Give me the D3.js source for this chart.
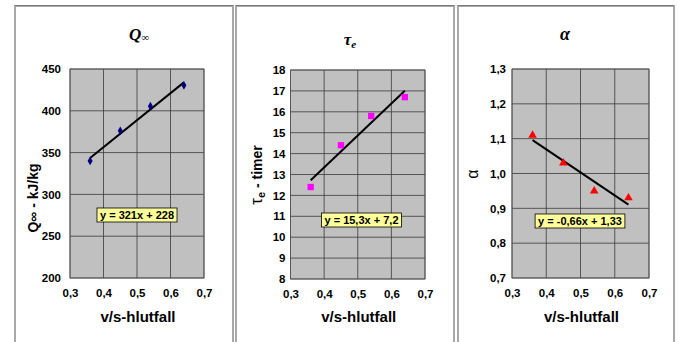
<!DOCTYPE html>
<html><head><meta charset="utf-8">
<script src="https://cdn.jsdelivr.net/npm/d3@7"></script>
<style>body{margin:0;background:#fff}svg{display:block}</style>
</head><body><svg id="c" width="678" height="342"></svg>
<script>
const xVals = [0.36, 0.45, 0.54, 0.64];
const qVals = [340, 376, 405.5, 430.5];
const tauVals = [12.4, 14.4, 15.8, 16.7];
const alphaVals = [1.11, 1.03, 0.95, 0.93];
const xTicks = [0.3, 0.4, 0.5, 0.6, 0.7];
const qTicks = [200, 250, 300, 350, 400, 450];
const tauTicks = [8, 9, 10, 11, 12, 13, 14, 15, 16, 17, 18];
const alphaTicks = [0.7, 0.8, 0.9, 1.0, 1.1, 1.2, 1.3];
const equations = ["y = 321x + 228", "y = 15,3x + 7,2", "y = -0,66x + 1,33"];
const xLabel = "v/s-hlutfall";

const panels = [
  {frame:[15,6,233,342], plot:[70,69,204,278], yDom:[200,450], ticks:qTicks, vals:qVals, fmt:d=>String(d),
   gap:9, marker:"diamond", color:"#000080", title:"Q∞", titleX:139, titleY:40, ylabX:33, ylabY:198, ylab:"Q∞ - kJ/kg", eq:equations[0], box:[137,215]},
  {frame:[236,6,454,342], plot:[290.5,70,425,279], yDom:[8,18], ticks:tauTicks, vals:tauVals, fmt:d=>String(d),
   gap:5, marker:"square", color:"#ff00ff", title:"τe", titleX:350, titleY:45, ylabX:257, ylabY:175, ylab:"τe - timer", eq:equations[1], box:[361.5,220]},
  {frame:[458,6,674,342], plot:[512,69,649,278], yDom:[0.7,1.3], ticks:alphaTicks, vals:alphaVals, fmt:d=>d.toFixed(1).replace(".",","),
   gap:6, marker:"triangle", color:"#ff0000", title:"α", titleX:565, titleY:40, ylabX:473, ylabY:174, ylab:"α", eq:equations[2], box:[580,221]}
];

const svg = d3.select("#c");
const comma = d => d.toFixed(1).replace(".", ",");

panels.forEach((p, i) => {
  const [fx0, fy0, fx1, fy1] = p.frame;
  svg.append("rect").attr("x", fx0).attr("y", fy0).attr("width", fx1 - fx0).attr("height", fy1 - fy0 + 5)
    .attr("fill", "#fff").attr("stroke", "#a8a8a8").attr("stroke-width", 2);
  svg.append("line").attr("x1", fx0).attr("x2", fx1).attr("y1", fy0 - 0.5).attr("y2", fy0 - 0.5)
    .attr("stroke", "#7a7a7a").attr("stroke-width", 1);

  const [px0, py0, px1, py1] = p.plot;
  const x = d3.scaleLinear().domain([0.3, 0.7]).range([px0, px1]);
  const y = d3.scaleLinear().domain(p.yDom).range([py1, py0]);

  const g = svg.append("g");
  g.append("rect").attr("x", px0).attr("y", py0).attr("width", px1 - px0).attr("height", py1 - py0).attr("fill", "#c0c0c0");
  g.selectAll(".gx").data(xTicks).enter().append("line")
    .attr("x1", d => x(d)).attr("x2", d => x(d)).attr("y1", py0).attr("y2", py1)
    .attr("stroke", "#3a3a3a").attr("stroke-width", 0.8);
  g.selectAll(".gy").data(p.ticks).enter().append("line")
    .attr("x1", px0).attr("x2", px1).attr("y1", d => y(d)).attr("y2", d => y(d))
    .attr("stroke", "#3a3a3a").attr("stroke-width", 0.8);
  g.append("rect").attr("x", px0).attr("y", py0).attr("width", px1 - px0).attr("height", py1 - py0)
    .attr("fill", "none").attr("stroke", "#555").attr("stroke-width", 0.8);

  const xa = svg.append("g").attr("transform", `translate(0,${py1})`)
    .call(d3.axisBottom(x).tickValues(xTicks).tickFormat(comma).tickSize(0).tickPadding(11));
  xa.select(".domain").remove();
  xa.selectAll("text").attr("font-family", "Liberation Sans, Arial, sans-serif").attr("font-weight", "bold")
    .attr("font-size", 11.5).attr("fill", "#000");
  const ya = svg.append("g").attr("transform", `translate(${px0},0)`)
    .call(d3.axisLeft(y).tickValues(p.ticks).tickFormat(p.fmt).tickSize(0).tickPadding(p.gap));
  ya.select(".domain").remove();
  ya.selectAll("text").attr("font-family", "Liberation Sans, Arial, sans-serif").attr("font-weight", "bold")
    .attr("font-size", 11.5).attr("fill", "#000");

  const n = xVals.length;
  const mx = d3.mean(xVals), my = d3.mean(p.vals);
  let sxy = 0, sxx = 0;
  for (let k = 0; k < n; k++) { sxy += (xVals[k] - mx) * (p.vals[k] - my); sxx += (xVals[k] - mx) ** 2; }
  const b = sxy / sxx, a = my - b * mx;
  const xe = d3.extent(xVals);
  svg.append("line").attr("x1", x(xe[0])).attr("y1", y(a + b * xe[0]))
    .attr("x2", x(xe[1])).attr("y2", y(a + b * xe[1]))
    .attr("stroke", "#000").attr("stroke-width", 2);

  const sym = p.marker === "diamond" ? d3.symbolDiamond : p.marker === "square" ? d3.symbolSquare : d3.symbolTriangle;
  const size = p.marker === "diamond" ? 22 : p.marker === "square" ? 40 : 32;
  svg.selectAll(".m" + i).data(xVals).enter().append("path")
    .attr("d", d3.symbol().type(sym).size(size))
    .attr("transform", (d, k) => `translate(${x(d)},${y(p.vals[k])})`)
    .attr("fill", p.color);

  const eg = svg.append("g");
  const et = eg.append("text").attr("x", p.box[0]).attr("y", p.box[1] + 4).attr("text-anchor", "middle")
    .attr("font-family", "Liberation Sans, Arial, sans-serif").attr("font-weight", "bold").attr("font-size", 11)
    .text(p.eq);
  const bb = et.node().getBBox();
  eg.insert("rect", "text").attr("x", bb.x - 3).attr("y", p.box[1] - 7).attr("width", bb.width + 6).attr("height", 14)
    .attr("fill", "#ffff99").attr("stroke", "#000").attr("stroke-width", 0.8);

  svg.append("text").attr("x", (px0 + px1) / 2 + 1).attr("y", 322).attr("text-anchor", "middle")
    .attr("font-family", "Liberation Sans, Arial, sans-serif").attr("font-weight", "bold").attr("font-size", 15)
    .text(xLabel);

  const tt = svg.append("text").attr("x", p.titleX).attr("y", p.titleY).attr("text-anchor", "middle")
    .attr("font-family", "Liberation Serif, Times New Roman, serif").attr("font-weight", "bold").attr("font-style", "italic");
  if (i === 0) {
    tt.append("tspan").attr("font-size", 17).text("Q");
    tt.append("tspan").attr("font-size", 11).attr("dy", 1).text("∞");
  } else if (i === 1) {
    tt.append("tspan").attr("font-size", 17).text("τ");
    tt.append("tspan").attr("font-size", 11).attr("dy", 3).text("e");
  } else {
    tt.append("tspan").attr("font-size", 18).text("α");
  }

  const yl = svg.append("text").attr("transform", `translate(${p.ylabX},${p.ylabY}) rotate(-90)`)
    .attr("text-anchor", "middle").attr("dy", "0.35em")
    .attr("font-family", "Liberation Sans, Arial, sans-serif").attr("font-size", 14).attr("font-weight", "bold");
  if (i === 0) {
    yl.append("tspan").text("Q∞ - kJ/kg");
  } else if (i === 1) {
    yl.append("tspan").attr("font-size", 17).attr("font-weight", "normal").text("τ");
    yl.append("tspan").attr("font-size", 11).attr("dy", 3).text("e");
    yl.append("tspan").attr("dy", -3).text(" - timer");
  } else {
    yl.append("tspan").attr("font-size", 16).attr("font-weight", "normal").text("α");
  }
});
</script></body></html>
